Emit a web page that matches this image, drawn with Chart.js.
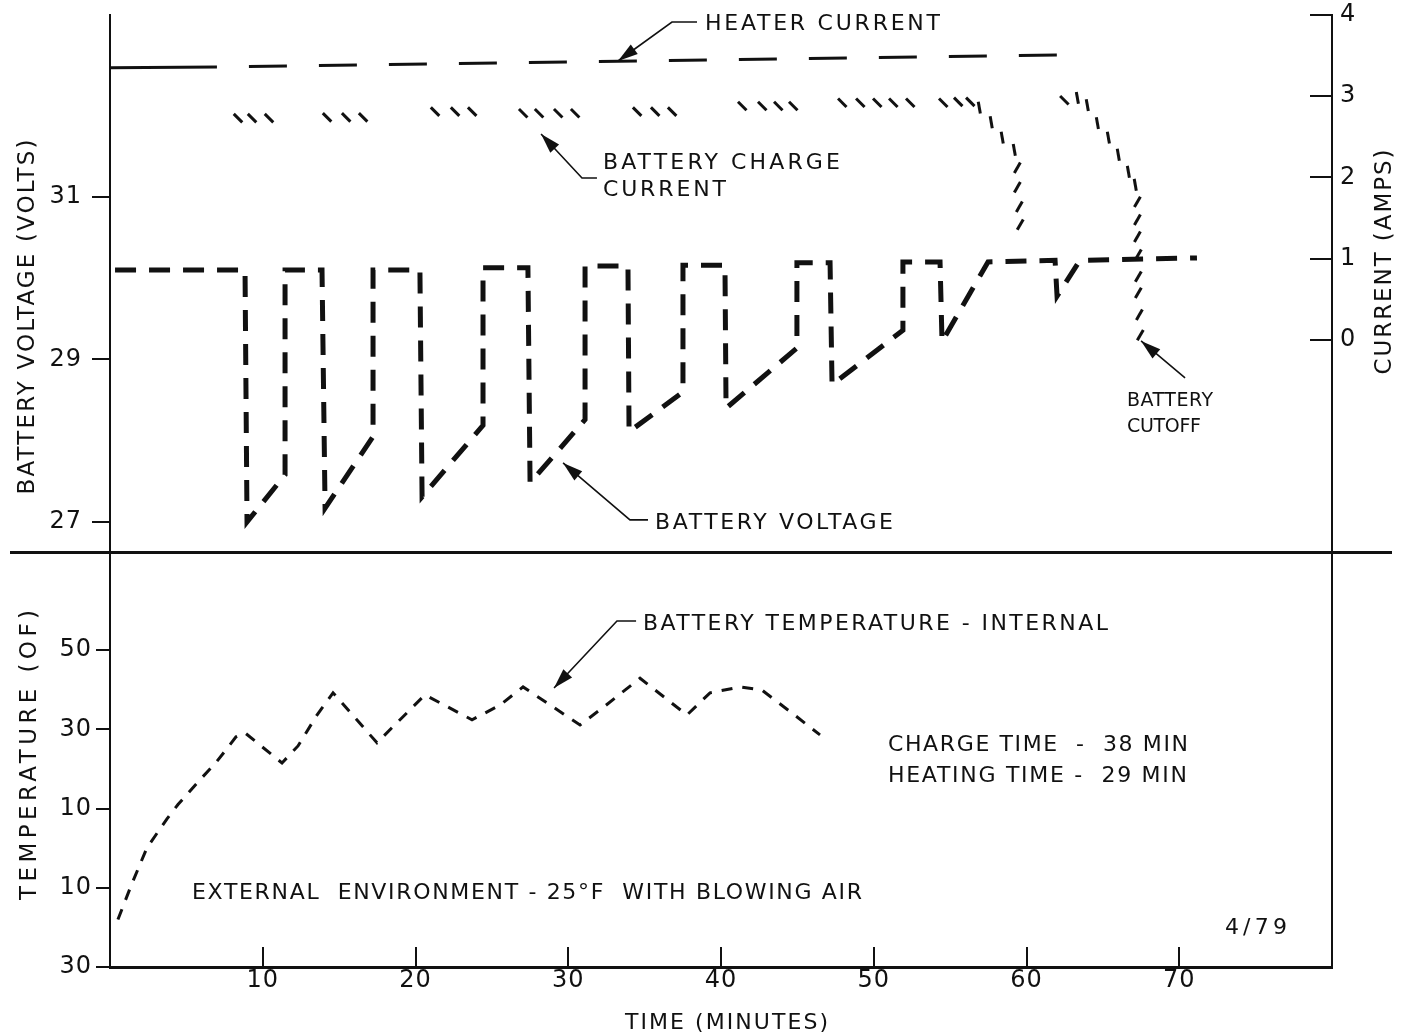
<!DOCTYPE html>
<html>
<head>
<meta charset="utf-8">
<title>Battery charge with heater</title>
<script src="https://cdn.jsdelivr.net/npm/chart.js@4.4.1/dist/chart.umd.min.js"></script>
<style>
  html, body { margin: 0; padding: 0; background: #fff; }
  #wrap { position: relative; width: 1404px; height: 1036px; overflow: hidden; }
  #top { position: absolute; left: 0; top: 0; }
  #bottom { position: absolute; left: 0; top: 553px; }
  #divider { position: absolute; left: 10px; top: 551px; width: 1382px; height: 3px; background: #111; }
</style>
</head>
<body>
<div id="wrap">
  <!-- 8px taller than its band: chart.js keeps that much below the plot area -->
  <canvas id="top" width="1404" height="561"></canvas>
  <canvas id="bottom" width="1404" height="483"></canvas>
  <div id="divider"></div>
</div>
<script>
// battery voltage (volts) against time (minutes)
const voltTime = [0.33, 8.84, 8.97, 11.46, 11.46, 13.88, 14.08, 17.22, 17.22, 20.29, 20.43, 24.42, 24.42,
  27.36, 27.50, 31.10, 31.10, 33.91, 33.98, 37.51, 37.51, 40.26, 40.33, 44.97, 44.97, 47.14, 47.27,
  51.91, 51.91, 54.34, 54.47, 57.48, 61.87, 62.00, 63.50, 71.16];
const voltValue = [30.10, 30.10, 27.00, 27.58, 30.10, 30.10, 27.17, 28.05, 30.10, 30.10, 27.31, 28.19, 30.13,
  30.13, 27.48, 28.26, 30.15, 30.15, 28.11, 28.60, 30.16, 30.16, 28.40, 29.14, 30.19, 30.19, 28.69,
  29.36, 30.20, 30.20, 29.22, 30.20, 30.22, 29.78, 30.22, 30.25];

// heater current (amps)
const heaterTime = [0, 7.0, 62.65];
const heaterAmps = [3.35, 3.36, 3.51];

// battery charge current (amps), one entry per hatch mark
const chargeTime = [8.38, 9.30, 10.41, 14.21, 15.46, 16.57, 21.28, 22.59, 23.71, 27.05, 28.09, 29.34, 30.45,
  34.51, 35.69, 36.80, 41.39, 42.70, 43.75, 44.73, 47.94, 49.12, 50.23, 51.28, 52.39,
  54.55, 55.53, 56.32, 56.91, 57.69, 58.41, 59.20, 59.40, 59.40, 59.53, 59.59,
  62.48, 63.33, 63.98, 64.64, 65.36, 66.01, 66.67, 67.12, 67.26, 67.26, 67.26, 67.32, 67.32, 67.32, 67.39, 67.45];
const chargeAmps = [2.73, 2.73, 2.73, 2.74, 2.74, 2.74, 2.81, 2.81, 2.81, 2.79, 2.79, 2.79, 2.79,
  2.81, 2.81, 2.81, 2.88, 2.88, 2.88, 2.88, 2.92, 2.92, 2.92, 2.92, 2.92,
  2.92, 2.93, 2.93, 2.86, 2.68, 2.49, 2.34, 2.12, 1.88, 1.64, 1.42,
  2.95, 2.98, 2.89, 2.67, 2.49, 2.28, 2.07, 1.91, 1.70, 1.48, 1.27, 1.05, 0.78, 0.58, 0.31, 0.06];

// battery temperature - internal (deg F)
const tempTime = [0.52, 1.44, 2.42, 3.73, 4.45, 6.02, 6.87, 7.59, 8.25, 8.84, 11.26, 12.31, 13.55, 14.60,
  17.48, 18.46, 20.62, 23.70, 25.53, 27.04, 30.77, 32.41, 34.70, 37.77, 39.28, 41.24, 42.68, 44.65, 46.48];
const tempValue = [-18.0, -8.9, 0.1, 7.4, 11.0, 17.8, 21.3, 24.8, 28.1, 29.1, 21.5, 25.8, 33.6, 39.2,
  26.6, 30.4, 38.7, 32.4, 36.1, 40.7, 31.1, 35.9, 42.9, 33.6, 39.2, 40.7, 39.9, 34.1, 28.6];

// tick values
const voltTicks = [27, 29, 31];
const ampTicks = [0, 1, 2, 3, 4];
const tempTicks = [-30, -10, 10, 30, 50];
const timeTicks = [10, 20, 30, 40, 50, 60, 70];

const INK = '#111';
const FONT = '"DejaVu Sans", "Liberation Sans", sans-serif';
const toXY = (xs, ys) => xs.map((x, i) => ({ x, y: ys[i] }));
const setTicks = list => s => { s.ticks = list.map(v => ({ value: v })); };

// fixed axis box sizes, and no extra room for end labels
const fixWidth = w => s => {
  s.width = w;
  s.paddingTop = 0; s.paddingBottom = 0; s.paddingLeft = 0; s.paddingRight = 0;
};
const fixHeight = h => s => {
  s.height = h;
  s.paddingTop = 0; s.paddingBottom = 0; s.paddingLeft = 0; s.paddingRight = 0;
};

// hatch marks lean "\" on flat runs, stand up on the steep fall, flip to "/" on the drop
function hatchAngle(c) {
  if (c.type !== 'data') return 45;
  const pts = c.dataset.data, i = c.dataIndex;
  const { x, amps } = c.chart.scales;
  const slope = (a, b) => Math.atan2(amps.getPixelForValue(b.y) - amps.getPixelForValue(a.y),
    x.getPixelForValue(b.x) - x.getPixelForValue(a.x)) * 180 / Math.PI;
  const d1 = i > 0 ? slope(pts[i - 1], pts[i]) : -90;
  const d2 = i < pts.length - 1 ? slope(pts[i], pts[i + 1]) : -90;
  const ang = Math.max(d1, d2);
  if (ang < 35) return 45;
  if (ang < 85) return 80;
  return 120;
}

function spacedText(ctx, text, x, y, size, width) {
  ctx.font = size + 'px ' + FONT;
  ctx.letterSpacing = '0px';
  const natural = ctx.measureText(text).width;
  const gap = text.length > 1 ? (width - natural) / (text.length - 1) : 0;
  ctx.letterSpacing = gap + 'px';
  ctx.fillText(text, x, y);
}

const notesPlugin = {
  id: 'notes',
  beforeDraw(chart) { chart.ctx.letterSpacing = '1px'; },
  afterDraw(chart, args, opts) {
    const { ctx, scales } = chart;
    const px = t => scales.x.getPixelForValue(t);
    const py = v => scales[opts.axis].getPixelForValue(v);
    ctx.save();
    ctx.fillStyle = INK;
    ctx.strokeStyle = INK;
    ctx.textAlign = 'left';
    ctx.textBaseline = 'alphabetic';
    opts.labels.forEach(l => spacedText(ctx, l.text, px(l.t), py(l.v), l.size, l.width));

    ctx.lineWidth = 1.6;
    opts.arrows.forEach(a => {
      const p = a.map(([t, v]) => [px(t), py(v)]);
      ctx.beginPath();
      p.forEach(([x, y], i) => i ? ctx.lineTo(x, y) : ctx.moveTo(x, y));
      ctx.stroke();
      const [x1, y1] = p[p.length - 2];
      const [x2, y2] = p[p.length - 1];
      ctx.save();
      ctx.translate(x2, y2);
      ctx.rotate(Math.atan2(y2 - y1, x2 - x1));
      ctx.beginPath();
      ctx.moveTo(0, 0);
      ctx.lineTo(-20, -6);
      ctx.lineTo(-20, 6);
      ctx.closePath();
      ctx.fill();
      ctx.restore();
    });

    opts.titles.forEach(tl => {
      ctx.save();
      ctx.translate(tl.x, tl.y);
      ctx.rotate(tl.rot || 0);
      spacedText(ctx, tl.text, -tl.width / 2, 0, tl.size, tl.width);
      ctx.restore();
    });
    ctx.restore();
  }
};

const tickFont = { family: FONT, size: 24 };
const axisLine = { color: INK, width: 2 };

new Chart(document.getElementById('top'), {
  type: 'line',
  data: {
    datasets: [
      {
        label: 'Heater current',
        data: toXY(heaterTime, heaterAmps),
        yAxisID: 'amps',
        borderColor: INK,
        borderWidth: 3,
        pointRadius: 0,
        segment: {
          borderDash: s => s.p0DataIndex === 0 ? [] : [38, 32],
          borderDashOffset: s => s.p0DataIndex === 0 ? 0 : 38
        }
      },
      {
        label: 'Battery charge current',
        data: toXY(chargeTime, chargeAmps),
        yAxisID: 'amps',
        showLine: false,
        pointStyle: 'line',
        pointRadius: 6,
        pointBorderWidth: 3,
        pointBorderColor: INK,
        pointRotation: hatchAngle
      },
      {
        label: 'Battery voltage',
        data: toXY(voltTime, voltValue),
        yAxisID: 'volts',
        borderColor: INK,
        borderWidth: 5,
        borderDash: [21, 13],
        borderCapStyle: 'butt',
        borderJoinStyle: 'miter',
        pointRadius: 0
      }
    ]
  },
  options: {
    responsive: false,
    animation: false,
    events: [],
    layout: { padding: { top: 15, bottom: 1, left: 0, right: 0 } },
    plugins: {
      legend: { display: false },
      tooltip: { enabled: false },
      notes: {
        axis: 'amps',
        labels: [
          { text: 'HEATER CURRENT', t: 38.95, v: 3.815, size: 22, width: 235 },
          { text: 'BATTERY CHARGE', t: 32.27, v: 2.105, size: 22, width: 237 },
          { text: 'CURRENT', t: 32.27, v: 1.772, size: 22, width: 123 },
          { text: 'BATTERY VOLTAGE', t: 35.68, v: -2.326, size: 22, width: 238 },
          { text: 'BATTERY', t: 66.58, v: -0.812, size: 19, width: 86 },
          { text: 'CUTOFF', t: 66.58, v: -1.132, size: 19, width: 74 }
        ],
        arrows: [
          [[38.43, 3.914], [36.79, 3.914], [33.26, 3.434]],
          [[31.88, 1.994], [30.90, 1.994], [28.22, 2.535]],
          [[35.22, -2.215], [34.04, -2.215], [29.66, -1.514]],
          [[70.38, -0.468], [67.50, -0.012]]
        ],
        titles: [
          { text: 'BATTERY VOLTAGE (VOLTS)', x: 34, y: 317, rot: -Math.PI / 2, size: 23, width: 355 },
          { text: 'CURRENT (AMPS)', x: 1391, y: 262, rot: -Math.PI / 2, size: 23, width: 225 }
        ]
      }
    },
    scales: {
      x: {
        type: 'linear',
        position: 'bottom',
        min: 0,
        max: 80,
        afterBuildTicks: s => { s.ticks = []; },
        afterFit: fixHeight(0),
        grid: { display: false, drawTicks: false, tickLength: 0 },
        border: { display: false },
        ticks: { display: false }
      },
      volts: {
        type: 'linear',
        position: 'left',
        min: 26.63,
        max: 33.24,
        afterBuildTicks: setTicks(voltTicks),
        afterFit: fixWidth(110),
        grid: { drawOnChartArea: false, color: INK, lineWidth: 2, tickLength: 18 },
        border: axisLine,
        ticks: { color: INK, font: tickFont, padding: 10 }
      },
      amps: {
        type: 'linear',
        position: 'right',
        min: -2.61,
        max: 4,
        afterBuildTicks: setTicks(ampTicks),
        afterFit: fixWidth(72),
        grid: { drawOnChartArea: false, color: INK, lineWidth: 2, tickLength: -22 },
        border: axisLine,
        ticks: { color: INK, font: tickFont, padding: 30 }
      }
    }
  },
  plugins: [notesPlugin]
});

new Chart(document.getElementById('bottom'), {
  type: 'line',
  data: {
    datasets: [{
      label: 'Battery temperature - internal',
      data: toXY(tempTime, tempValue),
      yAxisID: 'temp',
      borderColor: INK,
      borderWidth: 3,
      borderDash: [11, 10],
      borderCapStyle: 'butt',
      pointRadius: 0
    }]
  },
  options: {
    responsive: false,
    animation: false,
    events: [],
    layout: { padding: { top: 2, bottom: 0, left: 0, right: 0 } },
    plugins: {
      legend: { display: false },
      tooltip: { enabled: false },
      notes: {
        axis: 'temp',
        labels: [
          { text: 'BATTERY TEMPERATURE - INTERNAL', t: 34.89, v: 55.07, size: 22, width: 465 },
          { text: 'CHARGE TIME  -  38 MIN', t: 50.93, v: 24.52, size: 22, width: 300 },
          { text: 'HEATING TIME -  29 MIN', t: 50.93, v: 16.70, size: 22, width: 299 },
          { text: 'EXTERNAL  ENVIRONMENT - 25°F  WITH BLOWING AIR', t: 5.37, v: -12.83, size: 22, width: 670 },
          { text: '4/79', t: 72.99, v: -21.67, size: 22, width: 62 }
        ],
        arrows: [
          [[34.44, 57.34], [33.19, 57.34], [29.07, 40.43]]
        ],
        titles: [
          { text: 'TEMPERATURE (OF)', x: 36, y: 202, rot: -Math.PI / 2, size: 23, width: 290 },
          { text: 'TIME (MINUTES)', x: 726.5, y: 476, rot: 0, size: 22, width: 203 }
        ]
      }
    },
    scales: {
      x: {
        type: 'linear',
        position: 'bottom',
        min: 0,
        max: 80,
        afterBuildTicks: setTicks(timeTicks),
        afterFit: fixHeight(69),
        grid: { drawOnChartArea: false, color: INK, lineWidth: 2, tickLength: -20 },
        border: { color: INK, width: 3 },
        ticks: { color: INK, font: tickFont, padding: 19, maxRotation: 0 }
      },
      temp: {
        type: 'linear',
        position: 'left',
        min: -30,
        max: 74,
        afterBuildTicks: setTicks(tempTicks),
        afterFit: fixWidth(110),
        grid: { drawOnChartArea: false, color: INK, lineWidth: 2, tickLength: 14 },
        border: axisLine,
        ticks: { color: INK, font: tickFont, padding: 4, callback: v => Math.abs(v) }
      },
      edge: {
        type: 'linear',
        position: 'right',
        min: -30,
        max: 74,
        afterBuildTicks: s => { s.ticks = []; },
        afterFit: fixWidth(72),
        grid: { drawOnChartArea: false, drawTicks: false },
        border: axisLine,
        ticks: { display: false }
      }
    }
  },
  plugins: [notesPlugin]
});
</script>
</body>
</html>
